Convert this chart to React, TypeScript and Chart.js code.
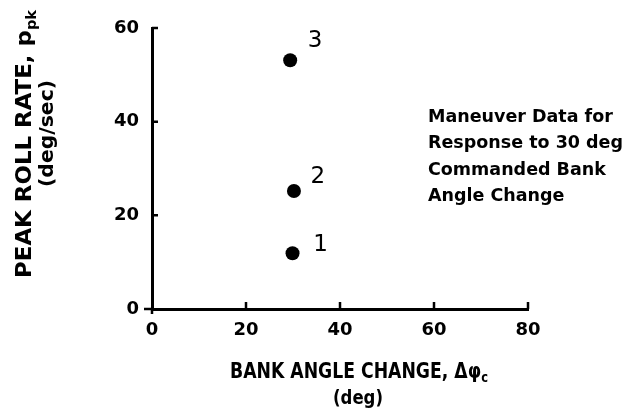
import React, { useEffect, useRef } from "react";
import { Chart, registerables } from "chart.js";

Chart.register(...registerables);

// ---- data ----
const bankAngleChange = [29.9, 30.2, 29.4];
const peakRollRate = [11.9, 25.2, 53.1];
const pointLabels = ["1", "2", "3"];
const xTickValues = [0, 20, 40, 60, 80];
const yTickValues = [0, 20, 40, 60];
const annotationLines = [
  "Maneuver Data for",
  "Response to 30 deg",
  "Commanded Bank",
  "Angle Change",
];
const xTitleMain = "BANK ANGLE CHANGE, Δφ";
const xTitleSub = "c";
const xTitleUnit = "(deg)";
const yTitleMain = "PEAK ROLL RATE, p";
const yTitleSub = "pk";
const yTitleUnit = "(deg/sec)";

// ---- style constants ----
const FAMILY = "'DejaVu Sans', sans-serif";
const labelOffsets = [
  [28, -8],
  [24, -14],
  [25, -19],
];

type Part = { text: string; font: string; dy?: number };

function drawParts(ctx: CanvasRenderingContext2D, x: number, y: number, parts: Part[], width?: number) {
  let total = 0;
  for (const p of parts) {
    ctx.font = p.font;
    total += ctx.measureText(p.text).width;
  }
  const s = width ? width / total : 1;
  ctx.save();
  ctx.translate(x, y);
  ctx.scale(s, 1);
  let cx = 0;
  for (const p of parts) {
    ctx.font = p.font;
    ctx.fillText(p.text, cx, p.dy || 0);
    cx += ctx.measureText(p.text).width;
  }
  ctx.restore();
}

const decorPlugin = {
  id: "decor",
  afterDraw(chart: any) {
    const ctx: CanvasRenderingContext2D = chart.ctx;
    const xs = chart.scales.x;
    const ys = chart.scales.y;
    const { left, bottom } = chart.chartArea;

    // inward tick marks
    ctx.save();
    ctx.strokeStyle = "#000";
    ctx.lineWidth = 2.5;
    ctx.lineCap = "butt";
    ctx.beginPath();
    for (const v of xTickValues) {
      if (v === 0) continue;
      const px = xs.getPixelForValue(v);
      ctx.moveTo(px, bottom);
      ctx.lineTo(px, bottom - 7);
    }
    for (const v of yTickValues) {
      if (v === 0) continue;
      const py = ys.getPixelForValue(v);
      ctx.moveTo(left, py);
      ctx.lineTo(left + 6, py);
    }
    // origin cross
    ctx.moveTo(left - 8, bottom);
    ctx.lineTo(left, bottom);
    ctx.moveTo(left, bottom);
    ctx.lineTo(left, bottom + 5);
    ctx.stroke();
    ctx.restore();

    ctx.save();
    ctx.fillStyle = "#000";
    ctx.textAlign = "left";
    ctx.textBaseline = "alphabetic";

    // point labels
    const meta = chart.getDatasetMeta(0);
    ctx.font = `normal 23px ${FAMILY}`;
    ctx.textAlign = "center";
    ctx.textBaseline = "middle";
    meta.data.forEach((pt: any, i: number) => {
      const [dx, dy] = labelOffsets[i];
      ctx.fillText(pointLabels[i], pt.x + dx, pt.y + dy);
    });
    ctx.textAlign = "left";
    ctx.textBaseline = "alphabetic";

    // x title
    drawParts(
      ctx,
      230,
      378,
      [
        { text: xTitleMain, font: `bold 21px ${FAMILY}` },
        { text: xTitleSub, font: `bold 14px ${FAMILY}`, dy: 4 },
      ],
      258
    );
    drawParts(ctx, 333, 404, [{ text: xTitleUnit, font: `bold 19px ${FAMILY}` }], 50);

    // y title (rotated)
    ctx.save();
    ctx.translate(31, 278);
    ctx.rotate(-Math.PI / 2);
    drawParts(
      ctx,
      0,
      0,
      [
        { text: yTitleMain, font: `bold 22px ${FAMILY}` },
        { text: yTitleSub, font: `bold 14px ${FAMILY}`, dy: 5 },
      ],
      268
    );
    ctx.restore();
    ctx.save();
    ctx.translate(53, 187);
    ctx.rotate(-Math.PI / 2);
    drawParts(ctx, 0, 0, [{ text: yTitleUnit, font: `bold 19px ${FAMILY}` }], 107);
    ctx.restore();

    // annotation
    const annFont = `bold 18px ${FAMILY}`;
    ctx.font = annFont;
    const refW = ctx.measureText(annotationLines[1]).width;
    const s = 195 / refW;
    const baselines = [121.7, 148.3, 175, 200.5];
    annotationLines.forEach((line, i) => {
      ctx.save();
      ctx.translate(428, baselines[i]);
      ctx.scale(s, 1);
      ctx.font = annFont;
      ctx.fillText(line, 0, 0);
      ctx.restore();
    });
    ctx.restore();
  },
};

export default function App() {
  const canvasRef = useRef<HTMLCanvasElement | null>(null);

  useEffect(() => {
    const canvas = canvasRef.current;
    if (!canvas) return;
    const chart = new Chart(canvas, {
      type: "scatter",
      data: {
        datasets: [
          {
            data: bankAngleChange.map((x, i) => ({ x, y: peakRollRate[i] })),
            backgroundColor: "#000",
            borderColor: "#000",
            borderWidth: 0,
            pointRadius: 7,
            pointHoverRadius: 7,
            clip: false as any,
          },
        ],
      },
      options: {
        animation: false,
        responsive: false,
        maintainAspectRatio: false,
        events: [],
        layout: { padding: { top: 28, right: 98, left: 0, bottom: 0 } },
        plugins: {
          legend: { display: false },
          tooltip: { enabled: false },
          title: { display: false },
        },
        scales: {
          x: {
            type: "linear",
            min: 0,
            max: 80,
            afterFit: (s: any) => {
              s.height = 101;
            },
            afterBuildTicks: (s: any) => {
              s.ticks = xTickValues.map((v) => ({ value: v }));
            },
            grid: { display: false, drawTicks: false },
            border: { display: true, color: "#000", width: 3 },
            ticks: {
              color: "#000",
              padding: 11,
              font: { family: "'DejaVu Sans', sans-serif", size: 18, weight: "bold" },
              maxRotation: 0,
            },
          },
          y: {
            type: "linear",
            min: 0,
            max: 60,
            afterFit: (s: any) => {
              s.width = 152;
            },
            afterBuildTicks: (s: any) => {
              s.ticks = yTickValues.map((v) => ({ value: v }));
            },
            grid: { display: false, drawTicks: false },
            border: { display: true, color: "#000", width: 3 },
            ticks: {
              color: "#000",
              padding: 13,
              font: { family: "'DejaVu Sans', sans-serif", size: 18, weight: "bold" },
            },
          },
        },
      },
      plugins: [decorPlugin],
    });
    return () => chart.destroy();
  }, []);

  return (
    <div style={{ position: "fixed", left: 0, top: 0, width: 626, height: 410, background: "#fff" }}>
      <canvas ref={canvasRef} width={626} height={410} style={{ display: "block" }} />
    </div>
  );
}
